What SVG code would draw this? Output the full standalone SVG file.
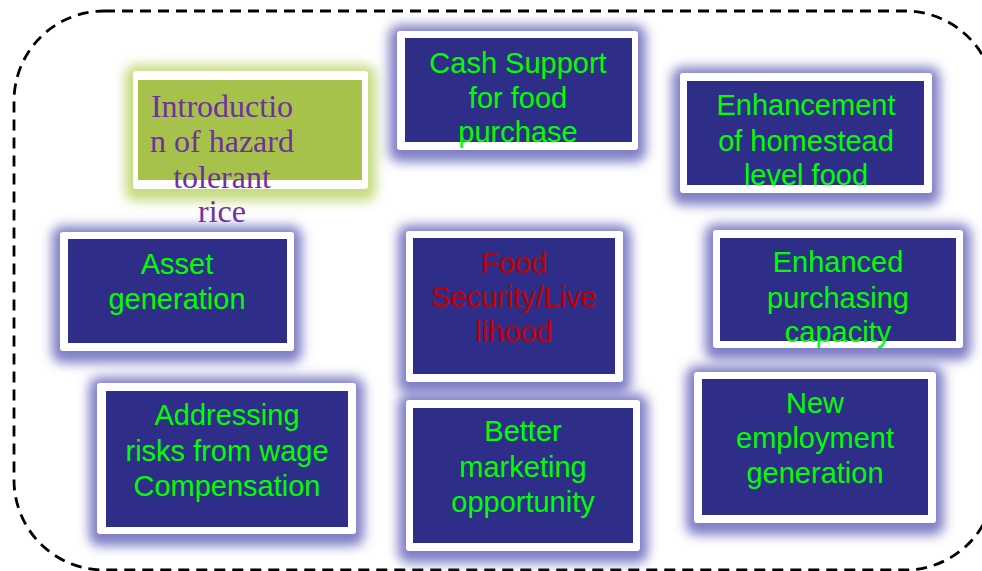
<svg xmlns="http://www.w3.org/2000/svg" width="982" height="571" viewBox="0 0 982 571">
<defs>
<filter id="blur" x="-25%" y="-35%" width="150%" height="170%"><feGaussianBlur stdDeviation="6"/></filter>
<style>
.halo{fill:#7E7EC6;filter:url(#blur)}
.halo-g{fill:#C6DB80;filter:url(#blur)}
.frame{fill:#FFFFFF}
.inner{fill:#2E2E88}
.inner-g{fill:#A6C24A}
.t{font-family:"Liberation Sans",Arial,sans-serif;font-size:29px;fill:#00FF00;text-anchor:middle}
.r{fill:#C00000}
.s{font-family:"Liberation Serif","Times New Roman",serif;font-size:32px;fill:#7030A0;text-anchor:middle}
.border{fill:none;stroke:#000;stroke-width:2.8;stroke-dasharray:11 7}
</style>
</defs>
<rect width="982" height="571" fill="#FFFFFF"/>
<g id="connectors">
<rect class="border" x="14" y="11" width="981" height="559" rx="90" ry="90"/>
</g>
<g id="node-asset">
<rect class="halo" x="52" y="226" width="250" height="137" rx="10"/>
<rect class="frame" x="60" y="232" width="234" height="119" rx="3"/>
<rect class="inner" x="68" y="239" width="219" height="104"/>
<text class="t" x="177" y="274">Asset</text>
<text class="t" x="177" y="309">generation</text>
</g>
<g id="node-intro">
<rect class="halo-g" x="125" y="65" width="251" height="136" rx="10"/>
<rect class="frame" x="133" y="71" width="235" height="118" rx="3"/>
<rect class="inner-g" x="138" y="80" width="224" height="100"/>
<text class="s" x="222" y="117">Introductio</text>
<text class="s" x="222" y="152">n of hazard</text>
<text class="s" x="222" y="188">tolerant</text>
<text class="s" x="222" y="222">rice</text>
</g>
<g id="node-cash">
<rect class="halo" x="389" y="25" width="257" height="137" rx="10"/>
<rect class="frame" x="397" y="31" width="241" height="119" rx="3"/>
<rect class="inner" x="405" y="38" width="227" height="104"/>
<text class="t" x="518" y="73">Cash Support</text>
<text class="t" x="518" y="108">for food</text>
<text class="t" x="518" y="142">purchase</text>
</g>
<g id="node-homestead">
<rect class="halo" x="672" y="67" width="268" height="138" rx="10"/>
<rect class="frame" x="680" y="73" width="252" height="120" rx="3"/>
<rect class="inner" x="687" y="81" width="237" height="104"/>
<text class="t" x="806" y="115">Enhancement</text>
<text class="t" x="806" y="151">of homestead</text>
<text class="t" x="806" y="185">level food</text>
</g>
<g id="node-food">
<rect class="halo" x="398" y="225" width="233" height="169" rx="10"/>
<rect class="frame" x="406" y="231" width="217" height="151" rx="3"/>
<rect class="inner" x="413" y="238" width="202" height="136"/>
<text class="t r" x="514" y="273">Food</text>
<text class="t r" x="514" y="307">Security/Live</text>
<text class="t r" x="514" y="342">lihood</text>
</g>
<g id="node-purchasing">
<rect class="halo" x="705" y="224" width="266" height="136" rx="10"/>
<rect class="frame" x="713" y="230" width="250" height="118" rx="3"/>
<rect class="inner" x="720" y="238" width="236" height="103"/>
<text class="t" x="838" y="272">Enhanced</text>
<text class="t" x="838" y="308">purchasing</text>
<text class="t" x="838" y="342">capacity</text>
</g>
<g id="node-employment">
<rect class="halo" x="686" y="366" width="258" height="169" rx="10"/>
<rect class="frame" x="694" y="372" width="242" height="151" rx="3"/>
<rect class="inner" x="702" y="379" width="226" height="136"/>
<text class="t" x="815" y="413">New</text>
<text class="t" x="815" y="448">employment</text>
<text class="t" x="815" y="483">generation</text>
</g>
<g id="node-addressing">
<rect class="halo" x="89" y="377" width="275" height="169" rx="10"/>
<rect class="frame" x="97" y="383" width="259" height="151" rx="3"/>
<rect class="inner" x="106" y="391" width="242" height="136"/>
<text class="t" x="227" y="425">Addressing</text>
<text class="t" x="227" y="461">risks from wage</text>
<text class="t" x="227" y="496">Compensation</text>
</g>
<g id="node-marketing">
<rect class="halo" x="398" y="394" width="250" height="169" rx="10"/>
<rect class="frame" x="406" y="400" width="234" height="151" rx="3"/>
<rect class="inner" x="413" y="408" width="220" height="135"/>
<text class="t" x="523" y="441">Better</text>
<text class="t" x="523" y="477">marketing</text>
<text class="t" x="523" y="512">opportunity</text>
</g>
</svg>
